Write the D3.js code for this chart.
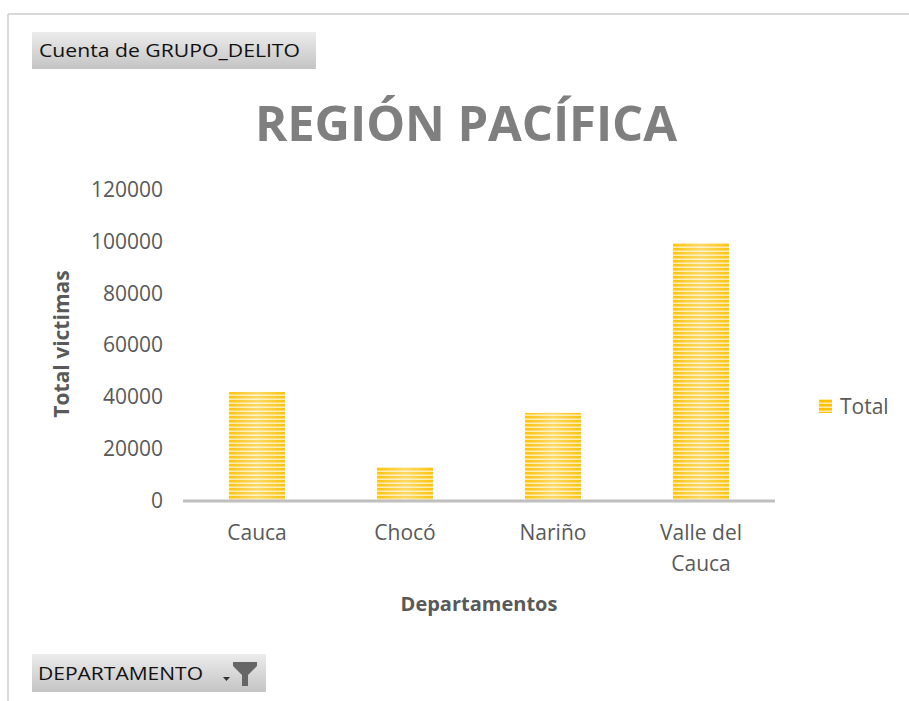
<!DOCTYPE html>
<html>
<head>
<meta charset="utf-8">
<script src="https://cdn.jsdelivr.net/npm/d3@7"></script>
<style>
  html, body { margin: 0; padding: 0; background: #fff; }
  svg { display: block; }
  text { font-family: "Open Sans", "DejaVu Sans", sans-serif; }
</style>
</head>
<body>
<script>
const categories = ["Cauca", "Chocó", "Nariño", "Valle del Cauca"];
const categoryLines = [["Cauca"], ["Chocó"], ["Nariño"], ["Valle del", "Cauca"]];
const values = [41700, 12700, 33600, 99200];
const yTicks = [0, 20000, 40000, 60000, 80000, 100000, 120000];
const seriesName = "Total";
const title = "REGIÓN PACÍFICA";
const xTitle = "Departamentos";
const yTitle = "Total victimas";
const valueButton = "Cuenta de GRUPO_DELITO";
const axisButton = "DEPARTAMENTO";

const W = 909, H = 701;
const svg = d3.select("body").append("svg").attr("width", W).attr("height", H);
const defs = svg.append("defs");

// stripe pattern for bars
const pat = defs.append("pattern").attr("id", "stripes").attr("patternUnits", "userSpaceOnUse")
  .attr("width", 8).attr("height", 4);
pat.append("rect").attr("width", 8).attr("height", 4).attr("fill", "#FFC000");
pat.append("rect").attr("y", 2).attr("width", 8).attr("height", 1).attr("fill", "#FFD75A");
pat.append("rect").attr("y", 3).attr("width", 8).attr("height", 1).attr("fill", "#FFE9A6");

const glow = defs.append("linearGradient").attr("id", "glow").attr("x1", 0).attr("x2", 1).attr("y1", 0).attr("y2", 0);
glow.append("stop").attr("offset", "0%").attr("stop-color", "#fff").attr("stop-opacity", 0.05);
glow.append("stop").attr("offset", "50%").attr("stop-color", "#fff").attr("stop-opacity", 0.4);
glow.append("stop").attr("offset", "100%").attr("stop-color", "#fff").attr("stop-opacity", 0.05);

const btn = defs.append("linearGradient").attr("id", "btn").attr("x1", 0).attr("x2", 0).attr("y1", 0).attr("y2", 1);
btn.append("stop").attr("offset", "0%").attr("stop-color", "#ececec");
btn.append("stop").attr("offset", "100%").attr("stop-color", "#c4c4c4");

// frame
svg.append("line").attr("x1", 8).attr("x2", W).attr("y1", 14).attr("y2", 14).attr("stroke", "#d9d9d9").attr("stroke-width", 2);
svg.append("line").attr("x1", 8).attr("x2", 8).attr("y1", 14).attr("y2", H).attr("stroke", "#d9d9d9").attr("stroke-width", 2);

// scales
const x = d3.scaleBand().domain(categories).range([183, 775]).paddingInner(0.622).paddingOuter(0.311);
const y = d3.scaleLinear().domain([0, 120000]).range([500, 189]);

// title
svg.append("text").attr("x", 466).attr("y", 141).attr("text-anchor", "middle")
  .attr("font-size", 49).attr("font-weight", "bold").attr("fill", "#7f7f7f")
  .attr("font-family", "Lato, 'Open Sans', sans-serif")
  .attr("textLength", 422).attr("lengthAdjust", "spacing").text(title);

// y ticks
const yAxis = svg.append("g").attr("transform", "translate(163,0)")
  .call(d3.axisLeft(y).tickValues(yTicks).tickSize(0).tickPadding(0).tickFormat(d3.format("d")));
yAxis.select(".domain").remove();
yAxis.selectAll("text").attr("font-size", 21).attr("fill", "#595959").attr("font-family", "'Open Sans', sans-serif").attr("dy", "0.35em");

// bars
const bars = svg.append("g");
bars.selectAll("rect.bar").data(values).join("rect").attr("class", "bar")
  .attr("x", (d, i) => x(categories[i])).attr("width", x.bandwidth())
  .attr("y", d => y(d)).attr("height", d => y(0) - y(d))
  .attr("fill", "url(#stripes)");
bars.selectAll("rect.glow").data(values).join("rect").attr("class", "glow")
  .attr("x", (d, i) => x(categories[i])).attr("width", x.bandwidth())
  .attr("y", d => y(d)).attr("height", d => y(0) - y(d))
  .attr("fill", "url(#glow)");

// baseline
svg.append("line").attr("x1", 183).attr("x2", 775).attr("y1", y(0) + 1).attr("y2", y(0) + 1)
  .attr("stroke", "#bfbfbf").attr("stroke-width", 3);

// x labels
const xl = svg.append("g");
categories.forEach((c, i) => {
  const t = xl.append("text").attr("x", x(c) + x.bandwidth() / 2).attr("y", 540)
    .attr("text-anchor", "middle").attr("font-size", 21).attr("fill", "#595959");
  categoryLines[i].forEach((ln, j) => {
    t.append("tspan").attr("x", x(c) + x.bandwidth() / 2).attr("dy", j === 0 ? 0 : 31).text(ln);
  });
});

// axis titles
svg.append("text").attr("x", 479).attr("y", 611).attr("text-anchor", "middle")
  .attr("font-size", 20).attr("font-weight", "bold").attr("fill", "#595959").text(xTitle);
svg.append("text").attr("transform", "translate(69,344) rotate(-90)").attr("text-anchor", "middle")
  .attr("font-size", 21).attr("font-weight", "bold").attr("fill", "#595959").text(yTitle);

// legend
svg.append("rect").attr("x", 819).attr("y", 399).attr("width", 13).attr("height", 14).attr("fill", "url(#stripes)");
svg.append("text").attr("x", 840).attr("y", 414).attr("font-size", 21).attr("fill", "#595959").text(seriesName);

// top field button
svg.append("rect").attr("x", 32).attr("y", 32).attr("width", 284).attr("height", 37).attr("fill", "url(#btn)");
svg.append("text").attr("x", 39).attr("y", 57).attr("font-size", 19).attr("fill", "#111")
  .attr("textLength", 261).attr("lengthAdjust", "spacingAndGlyphs").text(valueButton);

// bottom field button
svg.append("rect").attr("x", 32).attr("y", 654).attr("width", 234).attr("height", 38).attr("fill", "url(#btn)");
svg.append("text").attr("x", 38).attr("y", 680).attr("font-size", 19).attr("fill", "#111")
  .attr("textLength", 165).attr("lengthAdjust", "spacingAndGlyphs").text(axisButton);
svg.append("path").attr("d", "M223,677 L230,677 L226.5,681 Z").attr("fill", "#333");
svg.append("path").attr("d", "M233,662 L257,662 L257,666 L248,675 L248,686 L242,686 L242,675 L233,666 Z").attr("fill", "#666");
</script>
</body>
</html>
